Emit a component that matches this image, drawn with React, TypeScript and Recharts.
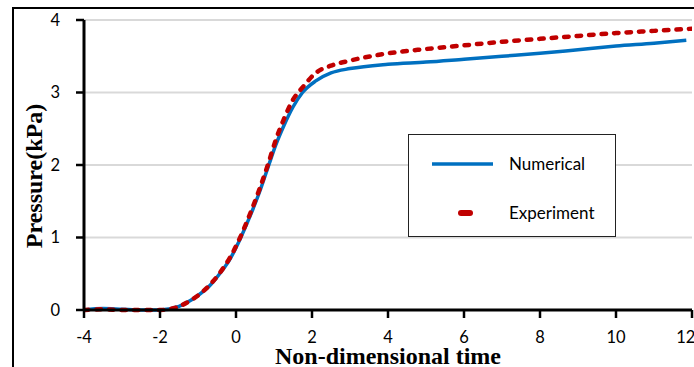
import React from 'react';
import { LineChart, Line, XAxis, YAxis, CartesianGrid, Legend } from 'recharts';

const numTime = [-4, -3.5, -3, -2.5, -2, -1.5, -1.2, -1, -0.7, -0.4, -0.15, 0.1, 0.35, 0.6, 0.85, 1.05, 1.25, 1.5, 1.75, 2.1, 2.5, 3, 4, 5, 6, 7, 8, 9, 10, 11, 11.85];
const numPressure = [0, 0.02, 0.01, 0, 0, 0.05, 0.13, 0.2, 0.33, 0.52, 0.71, 0.97, 1.27, 1.6, 1.98, 2.28, 2.53, 2.8, 3.0, 3.16, 3.27, 3.33, 3.39, 3.42, 3.46, 3.5, 3.54, 3.59, 3.64, 3.68, 3.72];

const expTime = [-4, -3.5, -3, -2.5, -2, -1.5, -1.2, -1, -0.7, -0.4, -0.15, 0.1, 0.35, 0.6, 0.85, 1.05, 1.25, 1.5, 1.75, 2.1, 2.5, 3, 4, 5, 6, 7, 8, 9, 10, 11, 12];
const expPressure = [0, 0.01, 0, 0, 0, 0.05, 0.13, 0.2, 0.34, 0.53, 0.73, 0.99, 1.3, 1.64, 2.02, 2.35, 2.62, 2.9, 3.07, 3.27, 3.37, 3.44, 3.54, 3.6, 3.65, 3.7, 3.74, 3.78, 3.82, 3.85, 3.88];

const xTicks = [-4, -2, 0, 2, 4, 6, 8, 10, 12];
const yTicks = [0, 1, 2, 3, 4];

const numData = numTime.map((t, i) => ({ t, p: numPressure[i] }));
const expData = expTime.map((t, i) => ({ t, p: expPressure[i] }));

const BLUE = '#0070c0';
const RED = '#c00000';
const tickFont = { fontFamily: 'Lato', fontSize: 16.5, fill: '#000' };
const titleFont = { fontFamily: 'Liberation Serif', fontSize: 24, fontWeight: 700, fill: '#000' };

const LegendBox = () => (
  <div style={{ width: 208, height: 103, border: '1.5px solid #222', background: '#fff', boxSizing: 'border-box', position: 'relative' }}>
    <svg width={208} height={103} style={{ position: 'absolute', left: 0, top: 0 }}>
      <line x1={23} y1={29} x2={84} y2={29} stroke={BLUE} strokeWidth={3.5} />
      <line x1={52} y1={78} x2={61} y2={78} stroke={RED} strokeWidth={6} strokeLinecap="round" />
      <text x={100} y={35} style={{ fontFamily: 'Lato', fontSize: 17 }} fill="#000">Numerical</text>
      <text x={100} y={84} style={{ fontFamily: 'Lato', fontSize: 17 }} fill="#000">Experiment</text>
    </svg>
  </div>
);

export default function App() {
  return (
    <div style={{ position: 'absolute', left: 0, top: 0, width: 694, height: 367, overflow: 'hidden', background: '#fff' }}>
      <div style={{ position: 'absolute', left: 12, top: 7, width: 720, height: 400, borderLeft: '2.5px solid #000', borderTop: '2.5px solid #000' }} />
      <LineChart width={694} height={367} margin={{ top: 20, right: 2, bottom: 27, left: 0 }} style={{ position: 'absolute', left: 0, top: 0 }}>
        <CartesianGrid vertical={false} stroke="#d9d9d9" strokeWidth={2} />
        <XAxis
          type="number"
          dataKey="t"
          domain={[-4, 12]}
          ticks={xTicks}
          allowDataOverflow
          height={30}
          axisLine={{ stroke: '#000', strokeWidth: 3 }}
          tickLine={{ stroke: '#000', strokeWidth: 2.5 }}
          tickSize={8}
          tickMargin={13}
          tick={tickFont}
          label={{ value: 'Non-dimensional time', position: 'bottom', offset: 7, style: titleFont }}
        />
        <YAxis
          type="number"
          domain={[0, 4]}
          ticks={yTicks}
          width={84}
          axisLine={{ stroke: '#000', strokeWidth: 3 }}
          tickLine={{ stroke: '#000', strokeWidth: 2.5 }}
          tickSize={8}
          tickMargin={16}
          tick={tickFont}
          label={{
            content: () => (
              <text transform="translate(42,176) rotate(-90)" textAnchor="middle" style={titleFont}>Pressure(kPa)</text>
            ),
          }}
        />
        <Legend
          layout="horizontal"
          verticalAlign="middle"
          align="center"
          content={() => <LegendBox />}
          wrapperStyle={{ left: 408, top: 134, width: 208, height: 103 }}
        />
        <Line
          data={numData}
          dataKey="p"
          name="Numerical"
          type="monotone"
          stroke={BLUE}
          strokeWidth={3.5}
          dot={false}
          isAnimationActive={false}
        />
        <Line
          data={expData}
          dataKey="p"
          name="Experiment"
          type="monotone"
          stroke={RED}
          strokeWidth={4.5}
          strokeDasharray="4.5 8"
          strokeLinecap="round"
          dot={false}
          isAnimationActive={false}
        />
      </LineChart>
    </div>
  );
}
